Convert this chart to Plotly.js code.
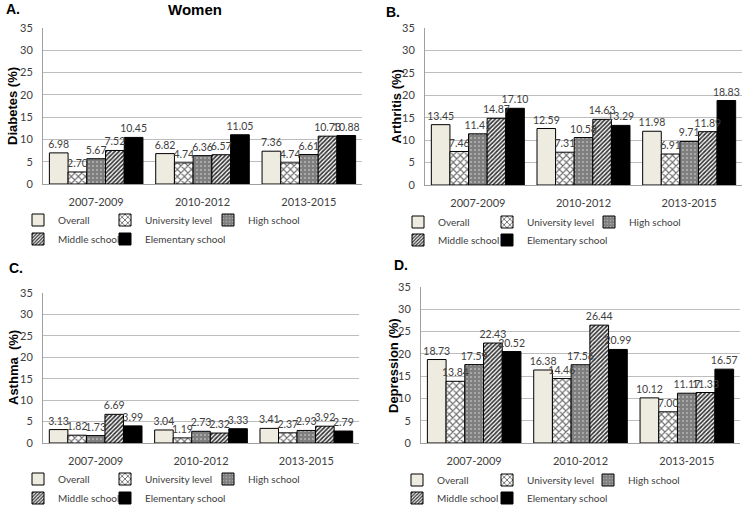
<!DOCTYPE html>
<html>
<head>
<meta charset="utf-8">
<script src="https://cdn.plot.ly/plotly-3.0.1.min.js"></script>
<style>
  html, body { margin: 0; padding: 0; background: #fff; }
  #chart { width: 745px; height: 505px; }
</style>
</head>
<body>
<div id="chart"></div>
<script>
// categories and series names
const periods = ['2007-2009', '2010-2012', '2013-2015'];
const groups = ['Overall', 'University level', 'High school', 'Middle school', 'Elementary school'];

// values per group (rows follow groups, columns follow periods)
const diabetes = [
    [6.98, 6.82, 7.36],
    [2.70, 4.74, 4.74],
    [5.67, 6.36, 6.61],
    [7.52, 6.57, 10.73],
    [10.45, 11.05, 10.88]
];
const arthritis = [
    [13.45, 12.59, 11.98],
    [7.46, 7.31, 6.91],
    [11.41, 10.58, 9.71],
    [14.87, 14.63, 11.89],
    [17.10, 13.29, 18.83]
];
const asthma = [
    [3.13, 3.04, 3.41],
    [1.82, 1.19, 2.37],
    [1.73, 2.73, 2.93],
    [6.69, 2.32, 3.92],
    [3.99, 3.33, 2.79]
];
const depression = [
    [18.73, 16.38, 10.12],
    [13.84, 14.46, 7.00],
    [17.59, 17.56, 11.17],
    [22.43, 26.44, 11.33],
    [20.52, 20.99, 16.57]
];
const yTicks = [0, 5, 10, 15, 20, 25, 30, 35];
const panelLetters = ['A.', 'B.', 'C.', 'D.'];
const yTitles = ['Diabetes (%)', 'Arthritis (%)', 'Asthma  (%)', 'Depression (%)'];

const W = 745, H = 505;
const TICK_FONT = 'Lato, "Open Sans", sans-serif';
const BOLD_FONT = '"Liberation Sans", Arial, sans-serif';

// pixel boxes of each plot area: [left, right, top, bottom]
const boxes = [
    [43, 362, 28, 184],
    [425, 742, 28, 185],
    [43, 359, 293, 443],
    [421, 740, 287, 443]
];
// legend text starts and row heights per panel
const legendTextX = [
    [58, 145, 248],
    [438, 527, 629],
    [58, 145, 248],
    [437, 527, 628]
];
const legendRowY = [
    [220, 239],
    [222, 240],
    [479, 498],
    [480, 498]
];
const letterPos = [[13, 9], [393, 12], [16, 268], [401, 265]];
const yTitlePos = [13, 396, 13, 393];

const seriesStyle = [
    { color: '#eeece1' },
    { color: '#ffffff', pattern: { shape: 'x', fgcolor: '#6e6e6e', bgcolor: '#ffffff', size: 5, solidity: 0.4 } },
    { color: '#7f7f7f', pattern: { shape: '.', fgcolor: '#e2e2e2', bgcolor: '#7f7f7f', size: 4, solidity: 0.12 } },
    { color: '#ffffff', pattern: { shape: '/', fgcolor: '#333333', bgcolor: '#ffffff', size: 3, solidity: 0.55 } },
    { color: '#000000' }
];

const TEXT_OFF = 40;

const panels = [diabetes, arthritis, asthma, depression];
const barTraces = [];
const labelTraces = [];
const layout = {
    width: W,
    height: H,
    // no margin push, legends sit exactly where they are put
    margin: { l: 0, r: 0, t: 0, b: 0, autoexpand: false },
    paper_bgcolor: '#ffffff',
    plot_bgcolor: '#ffffff',
    barmode: 'group',
    bargap: 0.12,
    bargroupgap: 0,
    showlegend: true,
    annotations: []
};

function legendAt(tx, ty) {
    return {
        x: (tx - TEXT_OFF) / W,
        y: 1 - ty / H,
        xanchor: 'left',
        yanchor: 'middle',
        orientation: 'h',
        bgcolor: 'rgba(0,0,0,0)',
        borderwidth: 0,
        itemclick: false,
        itemdoubleclick: false,
        font: { family: TICK_FONT, size: 10, color: '#404040' }
    };
}

let legendCount = 0;
panels.forEach(function(values, p) {
    const n = p === 0 ? '' : String(p + 1);
    const m = String(p + 5);   // overlay axes for the value labels
    const box = boxes[p];
    values.forEach(function(vals, g) {
        legendCount++;
        const legendId = legendCount === 1 ? 'legend' : 'legend' + legendCount;
        const style = seriesStyle[g];
        const marker = { color: style.color, line: { color: '#000000', width: 1 } };
        if (style.pattern) marker.pattern = style.pattern;
        barTraces.push({
            type: 'bar',
            name: groups[g],
            x: periods,
            y: vals,
            xaxis: 'x' + n,
            yaxis: 'y' + n,
            marker: marker,
            legend: legendId,
            hoverinfo: 'x+y+name'
        });
        // same bars, invisible, on an overlaid subplot so the numbers sit on top
        labelTraces.push({
            type: 'bar',
            name: groups[g],
            x: periods,
            y: vals,
            xaxis: 'x' + m,
            yaxis: 'y' + m,
            marker: { color: 'rgba(0,0,0,0)', line: { width: 0 } },
            showlegend: false,
            texttemplate: '%{y:.2f}',
            textposition: 'outside',
            constraintext: 'none',
            cliponaxis: false,
            textfont: { family: TICK_FONT, size: 10.5, color: '#404040' },
            hoverinfo: 'skip'
        });
        const row = g < 3 ? 0 : 1;
        const col = g < 3 ? g : g - 3;
        layout[legendId] = legendAt(legendTextX[p][col], legendRowY[p][row]);
    });

    const xDomain = [box[0] / W, box[1] / W];
    const yDomain = [1 - box[3] / H, 1 - box[2] / H];

    layout['xaxis' + n] = {
        domain: xDomain,
        anchor: 'y' + n,
        showgrid: false,
        showline: true,
        linecolor: '#a0a0a0',
        linewidth: 1,
        ticks: '',
        ticklabelstandoff: 8,
        tickfont: { family: TICK_FONT, size: 11, color: '#404040' },
        fixedrange: true
    };
    layout['yaxis' + n] = {
        domain: yDomain,
        anchor: 'x' + n,
        range: [0, 35],
        tickvals: yTicks,
        showgrid: true,
        gridcolor: '#bdbdbd',
        gridwidth: 1,
        zeroline: false,
        showline: true,
        linecolor: '#a0a0a0',
        linewidth: 1,
        ticks: '',
        ticklabelstandoff: 7,
        tickfont: { family: TICK_FONT, size: 11, color: '#404040' },
        fixedrange: true
    };
    layout['xaxis' + m] = {
        domain: xDomain,
        anchor: 'y' + m,
        overlaying: 'x' + n,
        visible: false,
        fixedrange: true
    };
    layout['yaxis' + m] = {
        domain: yDomain,
        anchor: 'x' + m,
        overlaying: 'y' + n,
        range: [0, 35],
        visible: false,
        fixedrange: true
    };

    layout.annotations.push({
        xref: 'paper', yref: 'paper',
        x: letterPos[p][0] / W, y: 1 - letterPos[p][1] / H,
        xanchor: 'center', yanchor: 'middle',
        text: '<b>' + panelLetters[p] + '</b>',
        showarrow: false,
        font: { family: BOLD_FONT, size: 14, color: '#000000' }
    });
    layout.annotations.push({
        xref: 'paper', yref: 'paper',
        x: yTitlePos[p] / W, y: 1 - (box[2] + box[3]) / 2 / H,
        xanchor: 'center', yanchor: 'middle',
        textangle: -90,
        text: '<b>' + yTitles[p] + '</b>',
        showarrow: false,
        font: { family: BOLD_FONT, size: 13, color: '#000000' }
    });
});

layout.annotations.push({
    xref: 'paper', yref: 'paper',
    x: 195 / W, y: 1 - 9 / H,
    xanchor: 'center', yanchor: 'middle',
    text: '<b>Women</b>',
    showarrow: false,
    font: { family: BOLD_FONT, size: 15, color: '#000000' }
});

Plotly.newPlot('chart', barTraces.concat(labelTraces), layout, { displayModeBar: false, staticPlot: true });
</script>
</body>
</html>
